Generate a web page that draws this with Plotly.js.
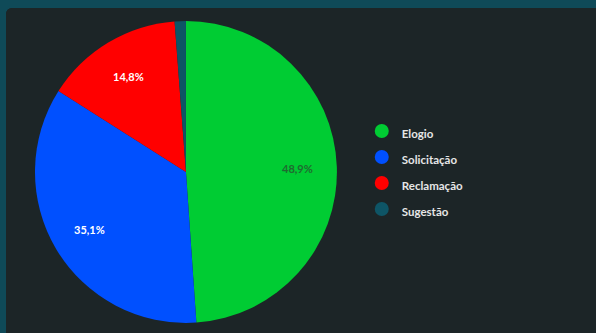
<!DOCTYPE html>
<html>
<head>
<meta charset="utf-8">
<script src="https://cdn.plot.ly/plotly-3.0.1.min.js"></script>
<style>
html,body{margin:0;padding:0;width:596px;height:333px;background:#0f4a58;overflow:hidden;}
#wrap{position:absolute;left:6px;top:8px;width:590px;height:325px;background:#1c2527;border-top-left-radius:6px;overflow:hidden;}
#chart{width:590px;height:325px;}
</style>
</head>
<body>
<div id="wrap"><div id="chart"></div></div>
<script>
const categories = ["Elogio", "Solicitação", "Reclamação", "Sugestão"];
const values = [48.9, 35.1, 14.8, 1.2];
const colors = ["#00cc33", "#0050ff", "#ff0000", "#0e5566"];
const labelColors = ["#1f6b30", "#ffffff", "#ffffff", "#ffffff"];
const showLabel = [true, true, true, false];

const W = 590, H = 325;
const domX = [0.049, 0.561], domY = [0.031, 0.96];

const pie = {
  type: "pie",
  labels: categories,
  values: values,
  sort: false,
  direction: "clockwise",
  rotation: 0,
  marker: {colors: colors, line: {width: 0}},
  textinfo: "none",
  hoverinfo: "label+percent",
  showlegend: false,
  domain: {x: domX, y: domY}
};

// percentage labels placed along each slice's mid-angle (derived from values)
const total = values.reduce((a, b) => a + b, 0);
const cx = (domX[0] + domX[1]) / 2 * W;
const cy = (domY[0] + domY[1]) / 2 * H;
const R = Math.min((domX[1] - domX[0]) * W, (domY[1] - domY[0]) * H) / 2;
const LABEL_R = 0.74;
let cum = 0;
const annotations = [];
values.forEach((v, i) => {
  const mid = (cum + v / 2) / total * 2 * Math.PI;
  cum += v;
  if (!showLabel[i]) return;
  const pct = (v / total * 100).toFixed(1).replace(".", ",") + "%";
  annotations.push({
    xref: "paper", yref: "paper",
    x: (cx + R * LABEL_R * Math.sin(mid)) / W,
    y: (cy + R * LABEL_R * Math.cos(mid)) / H,
    text: pct, showarrow: false,
    xanchor: "center", yanchor: "middle",
    font: {family: "Lato, 'Open Sans', sans-serif", size: 11, color: labelColors[i], weight: "bold"}
  });
});

const legendTraces = categories.map((c, i) => ({
  type: "scatter",
  mode: "markers",
  x: [null], y: [null],
  name: '<span style="font-size:11.5px">' + c + '</span>',
  marker: {color: colors[i], size: 14, symbol: "circle"},
  showlegend: true,
  hoverinfo: "skip"
}));

const layout = {
  width: W, height: H,
  margin: {l: 0, r: 0, t: 0, b: 0},
  paper_bgcolor: "#1c2527",
  plot_bgcolor: "rgba(0,0,0,0)",
  separators: ",.",
  xaxis: {visible: false, domain: [0.7, 0.71]},
  yaxis: {visible: false, domain: [0.5, 0.51]},
  annotations: annotations,
  showlegend: true,
  legend: {
    x: 0.603, xanchor: "left",
    y: 0.5, yanchor: "middle",
    bgcolor: "rgba(0,0,0,0)",
    font: {family: "Lato, 'Open Sans', sans-serif", size: 17.7, color: "#e6e6e6", weight: "bold"},
    itemsizing: "trace"
  }
};

Plotly.newPlot("chart", [pie, ...legendTraces], layout, {displayModeBar: false, staticPlot: true});
</script>
</body>
</html>
